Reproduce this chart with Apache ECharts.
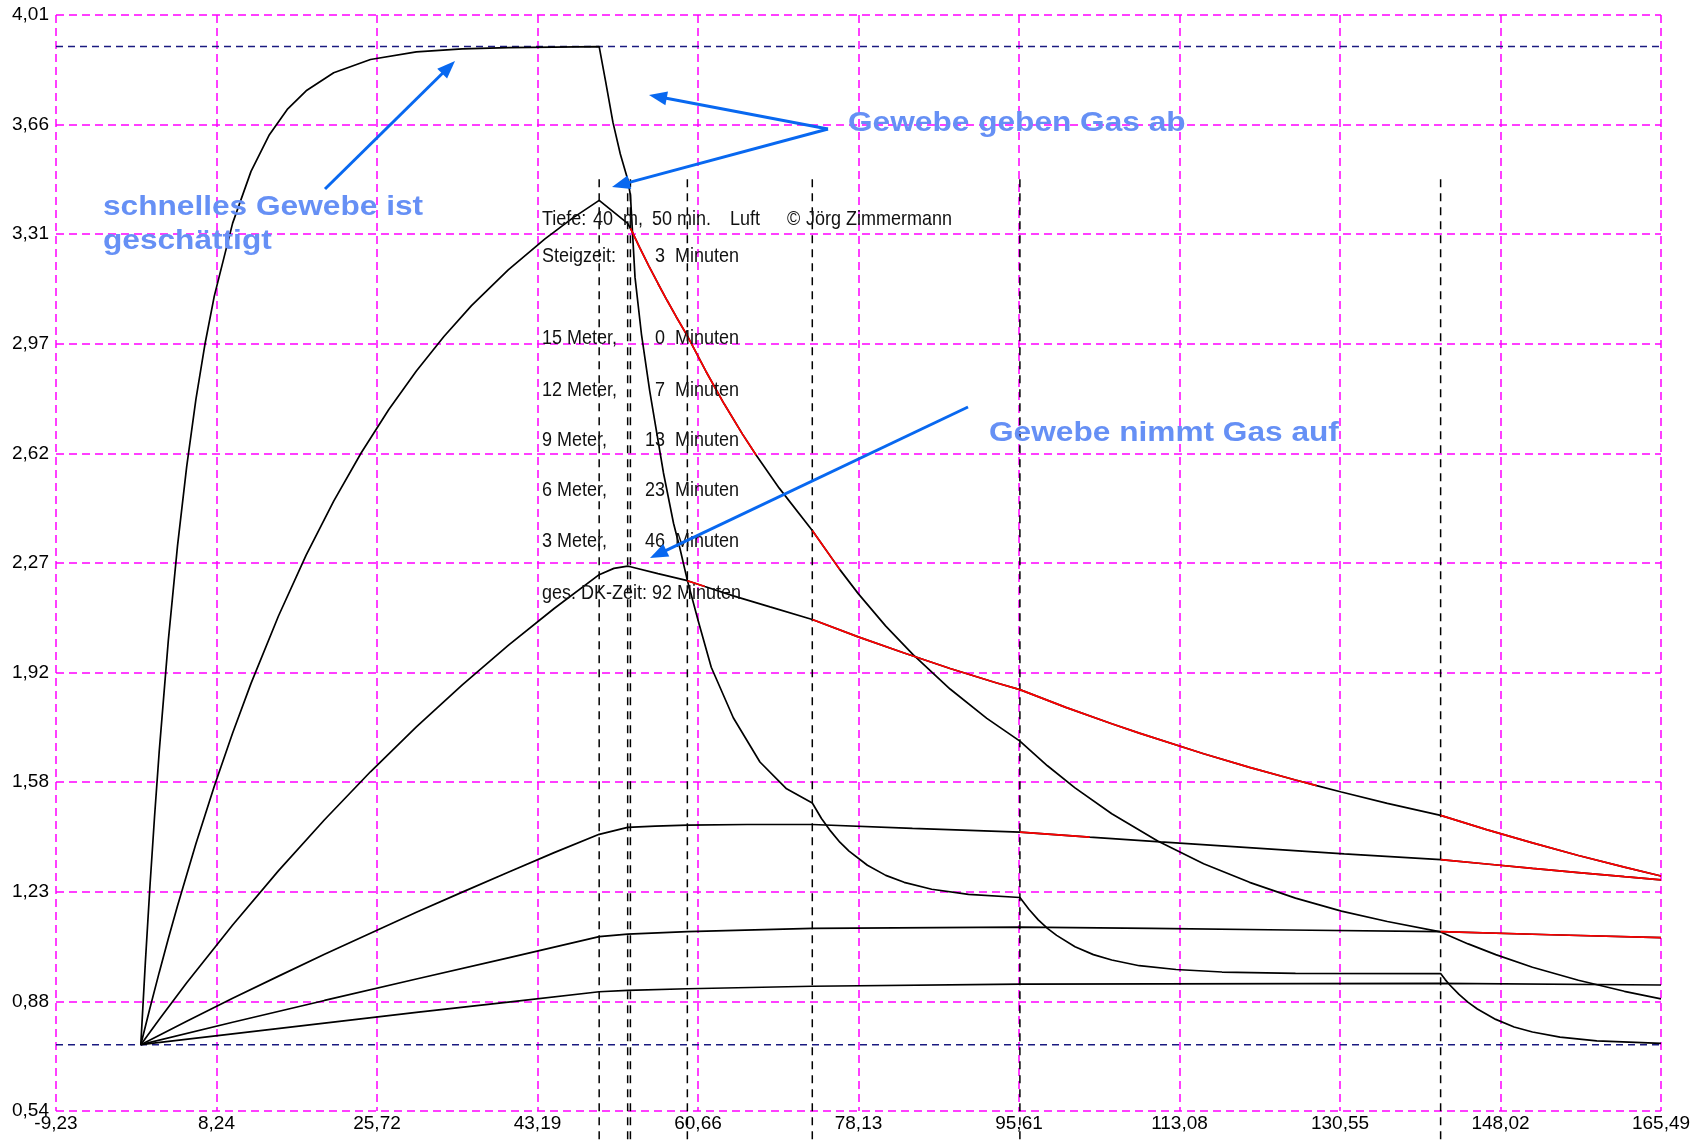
<!DOCTYPE html>
<html><head><meta charset="utf-8">
<script src="https://cdn.jsdelivr.net/npm/echarts@6/dist/echarts.min.js"></script>
<style>html,body{margin:0;padding:0;background:#fff}#c{width:1698px;height:1140px}</style>
</head><body><div id="c"></div>
<script>
// ---- axis ticks ----
const xTickLabels = ['-9,23','8,24','25,72','43,19','60,66','78,13','95,61','113,08','130,55','148,02','165,49'];
const yTickLabels = ['0,54','0,88','1,23','1,58','1,92','2,27','2,62','2,97','3,31','3,66','4,01'];
const xMin = -9.23, xMax = 165.49, yMin = 0.54, yMax = 4.01;

// ---- reference levels ----
const ambientLevels = [3.91, 0.75];
const stopTimes = [49.9, 53.0, 53.3, 59.5, 73.1, 95.7, 141.5];
const stopLineRange = [3.49, 0.448];

// ---- tissue curves (time in min, N2 pressure in bar) ----
const tA = [0,0.5,1,1.5,2,3,4,5,6,7,8,10,12,14,16,18,21,25,30,35,40,49.9,50.6,51.4,52.2,53.0,53.3,53.8,54.5,55.4,56.9,58.0,58.7,59.5,60.7,62.1,64.5,67.4,70.3,73.1,74.1,75.1,76.1,77.1,79.1,81.1,83.1,86.1,90.1,95.7,96.7,97.7,98.7,99.7,101.7,103.7,105.7,108.7,112.7,117.7,125.7,141.5,142.0,142.5,143.5,144.5,145.5,147.5,149.5,151.5,154.5,158.5,165.49];
const vA = [0.75,1.012,1.253,1.473,1.676,2.031,2.33,2.581,2.793,2.97,3.12,3.351,3.515,3.631,3.713,3.77,3.827,3.869,3.893,3.903,3.907,3.91,3.80,3.67,3.57,3.49,3.44,3.18,3.0,2.82,2.56,2.40,2.32,2.22,2.09,1.945,1.785,1.645,1.56,1.515,1.466,1.426,1.391,1.363,1.318,1.286,1.264,1.242,1.226,1.216,1.178,1.145,1.118,1.096,1.060,1.035,1.018,1.000,0.988,0.980,0.976,0.975,0.956,0.939,0.909,0.884,0.863,0.830,0.806,0.790,0.774,0.762,0.754];

const tB = [0,1,2,3,4,6,8,10,12,15,18,21,24,27,30,33,36,40,44,47,49.9,53.0,53.3,54.3,55.3,56.3,57.3,58.3,59.5,61.5,63.5,65.5,67.0,69.5,73.1,76.1,78.1,81.1,84.1,88.1,92.1,95.7,98.7,101.7,105.7,110.7,115.7,120.7,125.7,130.7,135.7,141.5,144.5,147.5,151.5,156.5,161.5,165.49];
const vB = [0.75,0.866,0.978,1.086,1.19,1.386,1.568,1.737,1.894,2.108,2.30,2.471,2.624,2.761,2.883,2.992,3.09,3.203,3.301,3.367,3.423,3.35,3.335,3.274,3.216,3.16,3.106,3.054,2.994,2.883,2.779,2.683,2.616,2.512,2.378,2.254,2.178,2.075,1.984,1.876,1.783,1.711,1.633,1.563,1.481,1.395,1.323,1.264,1.214,1.173,1.140,1.107,1.069,1.035,0.995,0.954,0.919,0.895];

const tC = [0,2,5,10,15,20,25,30,35,40,45,49.9,51.5,53.0,53.3,56.3,59.5,61.4,64.5,68.5,73.1,78.1,83.1,88.1,93.1,95.7,100.7,105.7,108.7,115.7,120.7,125.7,128.0,130.7,135.7,141.5,146.5,151.5,156.5,161.5,165.49];
const vC = [0.75,0.83,0.946,1.129,1.301,1.462,1.614,1.756,1.889,2.014,2.131,2.238,2.258,2.265,2.263,2.2415,2.219,2.2006,2.171,2.136,2.096,2.041,1.990,1.941,1.896,1.874,1.818,1.766,1.7365,1.671,1.628,1.588,1.570,1.55,1.514,1.476,1.431,1.389,1.349,1.312,1.284];

const tD = [0,5,10,15,20,25,30,35,40,45,49.9,53.0,56.0,59.5,66.0,73.1,84.0,95.7,103.3,111.0,121.0,131.0,141.5,146.5,151.5,156.5,161.5,165.49];
const vD = [0.75,0.824,0.897,0.967,1.036,1.103,1.169,1.233,1.296,1.358,1.416,1.438,1.442,1.445,1.447,1.447,1.435,1.423,1.407,1.392,1.373,1.354,1.336,1.322,1.308,1.295,1.282,1.272];

const tE = [0,10,20,30,40,49.9,53.0,59.5,73.1,95.7,110,125,141.5,153.5,165.49];
const vE = [0.75,0.821,0.89,0.958,1.025,1.092,1.100,1.108,1.118,1.122,1.118,1.113,1.108,1.098,1.089];

const tF = [0,10,20,30,40,49.9,53.0,59.5,73.1,95.7,141.5,165.49];
const vF = [0.75,0.784,0.818,0.852,0.885,0.9175,0.922,0.927,0.935,0.942,0.944,0.939];

// time windows drawn in red
const redB = [[53.3,67.0],[73.1,76.1]];
const redC = [[59.5,61.4],[73.1,128.0],[141.5,165.49]];
const redD = [[95.7,103.3],[141.5,165.49]];
const redE = [[141.5,165.49]];

// ---- text ----
const infoLines = [
  [['Tiefe:',542,'l'],['40',593,'l'],['m,',623,'l'],['50 min.',652,'l'],['Luft',730,'l'],['©',787,'l'],['Jörg Zimmermann',806,'l']],
  [['Steigzeit:',542,'l'],['3',665,'r'],['Minuten',675,'l']],
  [['15 Meter,',542,'l'],['0',665,'r'],['Minuten',675,'l']],
  [['12 Meter,',542,'l'],['7',665,'r'],['Minuten',675,'l']],
  [['9 Meter,',542,'l'],['13',665,'r'],['Minuten',675,'l']],
  [['6 Meter,',542,'l'],['23',665,'r'],['Minuten',675,'l']],
  [['3 Meter,',542,'l'],['46',665,'r'],['Minuten',675,'l']],
  [['ges. DK-Zeit:',542,'l'],['92',672,'r'],['Minuten',677,'l']]
];
const infoLineY = [219,256,338,390,440,490,541,593];
const notes = [
  ['schnelles Gewebe ist',103,207],
  ['geschättigt',103,241],
  ['Gewebe geben Gas ab',848,123],
  ['Gewebe nimmt Gas auf',989,433]
];
const arrows = [[325,189,455,61],[828,129,649,95],[828,129,612,187],[968,407,650,558]];

// ---- build ----
const zip = (t,v) => t.map((x,i)=>[x,v[i]]);
const curves = [[tA,vA,[]],[tB,vB,redB],[tC,vC,redC],[tD,vD,redD],[tE,vE,redE],[tF,vF,[]]];
const series = [];
ambientLevels.forEach(a => series.push({
  type:'line', data:[[xMin,a],[xMax,a]], showSymbol:false, silent:true, z:3,
  lineStyle:{color:'#1a1a80', width:1.5, type:[7,5]}
}));
stopTimes.forEach(s => series.push({
  type:'line', data:[[s,stopLineRange[0]],[s,stopLineRange[1]]], showSymbol:false, silent:true, clip:false, z:3,
  lineStyle:{color:'#000', width:1.5, type:[8,6]}
}));
curves.forEach(([t,v,reds]) => {
  const d = zip(t,v);
  series.push({type:'line', data:d, showSymbol:false, silent:true, z:4, lineStyle:{color:'#000', width:1.7}});
  reds.forEach(([a,b]) => series.push({
    type:'line', data:d.filter(p=>p[0]>=a-1e-9 && p[0]<=b+1e-9), showSymbol:false, silent:true, z:5,
    lineStyle:{color:'#ff0000', width:1.7}
  }));
});

const gfx = [];
infoLines.forEach((line,i) => line.forEach(([txt,x,al]) => gfx.push({
  type:'text', x:x, y:infoLineY[i], z:100, scaleY:1.12,
  style:{text:txt, font:'18px "Liberation Sans", Arial, sans-serif', fill:'#111', align: al==='r'?'right':'left', verticalAlign:'middle'}
})));
notes.forEach(([txt,x,y]) => gfx.push({
  type:'text', x:x, y:y, scaleX:1.13, z:101,
  style:{text:txt, font:'bold 28px "Liberation Sans", Arial, sans-serif', fill:'#6690f5', align:'left', verticalAlign:'middle'}
}));
const AC = '#0868f0';
arrows.forEach(([x1,y1,x2,y2]) => {
  const dx=x2-x1, dy=y2-y1, d=Math.hypot(dx,dy), ux=dx/d, uy=dy/d, L=18, W=7;
  const bx=x2-ux*L, by=y2-uy*L;
  gfx.push({type:'line', z:102, shape:{x1:x1,y1:y1,x2:bx+ux*3,y2:by+uy*3}, style:{stroke:AC, lineWidth:3}});
  gfx.push({type:'polygon', z:102, shape:{points:[[x2,y2],[bx-uy*W,by+ux*W],[bx+uy*W,by-ux*W]]}, style:{fill:AC}});
});

const gridLine = {show:true, lineStyle:{color:'#ff00ff', width:1.5, type:[8,5]}};
const labelFont = {color:'#000', fontFamily:'"Liberation Sans", Arial, sans-serif', fontSize:19};
const option = {
  animation:false,
  backgroundColor:'#fff',
  grid:{left:56, right:37, top:15, bottom:29, containLabel:false},
  xAxis:[
    {type:'value', min:xMin, max:xMax, show:false},
    {type:'value', min:0, max:10, interval:1, position:'bottom',
     axisLine:{show:false}, axisTick:{show:false}, splitLine:gridLine,
     axisLabel:Object.assign({margin:3, formatter:v=>xTickLabels[Math.round(v)]}, labelFont)}
  ],
  yAxis:[
    {type:'value', min:yMin, max:yMax, show:false},
    {type:'value', min:0, max:10, interval:1, position:'left',
     axisLine:{show:false}, axisTick:{show:false}, splitLine:gridLine,
     axisLabel:Object.assign({margin:7, formatter:v=>yTickLabels[Math.round(v)]}, labelFont)}
  ],
  series: series.map(s => Object.assign({xAxisIndex:0, yAxisIndex:0}, s)),
  graphic:{elements:gfx}
};
const chart = echarts.init(document.getElementById('c'));
chart.setOption(option);
</script>
</body></html>
